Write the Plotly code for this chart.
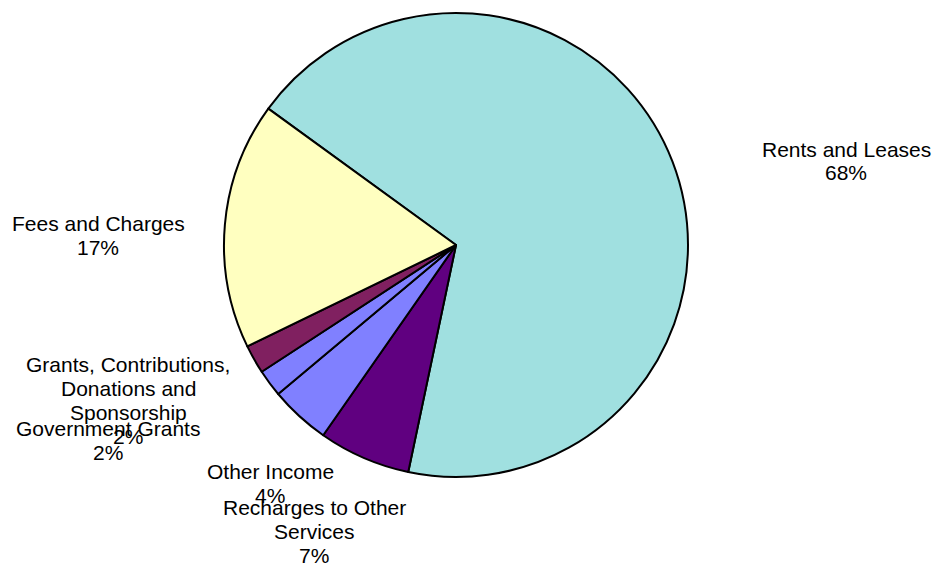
import plotly.graph_objects as go

categories = ["Rents and Leases", "Recharges to Other Services", "Other Income",
              "Government Grants", "Grants, Contributions, Donations and Sponsorship",
              "Fees and Charges"]
values = [68.3, 6.4, 4.2, 1.9, 2.0, 17.2]
colors = ["#A0E0E0", "#600080", "#8080FF", "#8080FF", "#802060", "#FFFFC0"]

label_lines = [["Rents and Leases", "68%"],
               ["Recharges to Other", "Services", "7%"],
               ["Other Income", "4%"],
               ["Government Grants", "2%"],
               ["Grants, Contributions,", "Donations and", "Sponsorship", "2%"],
               ["Fees and Charges", "17%"]]
label_px = [(846, 149), (314, 507), (270, 471), (108, 428), (128, 364), (98, 223)]
LINE_GAP = 24

W, H = 938, 566
cx, cy, r = 456, 245, 232

fig = go.Figure(go.Pie(
    labels=categories, values=values, sort=False, direction="clockwise",
    rotation=-54, marker=dict(colors=colors, line=dict(color="black", width=2)),
    textinfo="none", hoverinfo="label+percent", showlegend=False,
    domain=dict(x=[(cx - r) / W, (cx + r) / W], y=[(H - cy - r) / H, (H - cy + r) / H]),
))

for lines, (x, y0) in zip(label_lines, label_px):
    for i, t in enumerate(lines):
        y = y0 + i * LINE_GAP
        fig.add_annotation(text=t, x=x / W, y=1 - y / H, xref="paper", yref="paper",
                           xanchor="center", yanchor="middle", showarrow=False,
                           font=dict(family="Liberation Sans, Arial", size=21, color="black"))

fig.update_layout(width=W, height=H, margin=dict(l=0, r=0, t=0, b=0),
                  paper_bgcolor="white", plot_bgcolor="white")
fig.write_html("out.html", config={"displayModeBar": False},
               post_script="document.body.style.margin='0';document.body.style.overflow='hidden';")
